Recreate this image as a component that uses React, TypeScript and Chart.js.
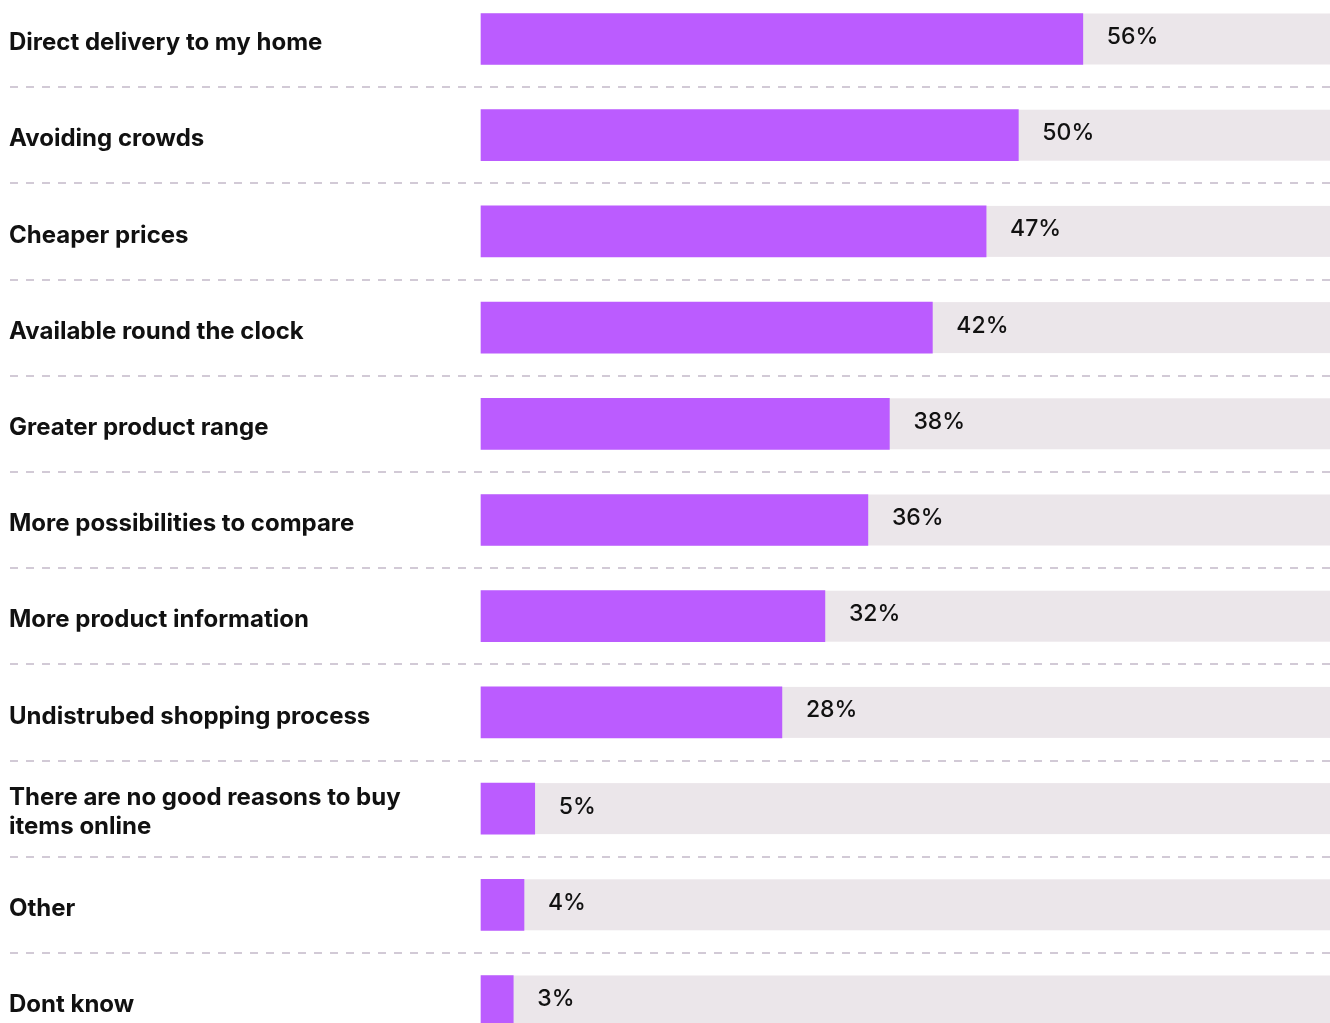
import React, { useEffect, useRef } from "react";
import { Chart, registerables } from "chart.js";

Chart.register(...registerables);

const categories: (string | string[])[] = [
  "Direct delivery to my home",
  "Avoiding crowds",
  "Cheaper prices",
  "Available round the clock",
  "Greater product range",
  "More possibilities to compare",
  "More product information",
  "Undistrubed shopping process",
  ["There are no good reasons to buy", "items online"],
  "Other",
  "Dont know",
];
const values: number[] = [56, 50, 47, 42, 38, 36, 32, 28, 5, 4, 3];
const axisMax = 79;

const PURPLE = "#BB5CFF";
const TRACK = "#EBE6EA";
const DASH = "#D2CAD6";
const TEXT = "#111111";
const FONT = "Inter, 'Noto Sans', sans-serif";

const bgPlugin = {
  id: "trackAndSeparators",
  beforeDatasetsDraw(chart: any) {
    const { ctx, chartArea } = chart;
    const y = chart.scales.y;
    const meta = chart.getDatasetMeta(0);
    ctx.save();
    meta.data.forEach((bar: any) => {
      const h = bar.height;
      ctx.fillStyle = TRACK;
      ctx.fillRect(chartArea.left, bar.y - h / 2, chartArea.right - chartArea.left, h);
    });
    ctx.strokeStyle = DASH;
    ctx.lineWidth = 2;
    ctx.setLineDash([8, 8]);
    for (let i = 0; i < categories.length - 1; i++) {
      const yy = Math.round((y.getPixelForValue(i) + y.getPixelForValue(i + 1)) / 2);
      ctx.beginPath();
      ctx.moveTo(10, yy);
      ctx.lineTo(chart.width, yy);
      ctx.stroke();
    }
    ctx.restore();
  },
  afterDatasetsDraw(chart: any) {
    const { ctx } = chart;
    const meta = chart.getDatasetMeta(0);
    ctx.save();
    ctx.fillStyle = TEXT;
    ctx.font = `500 23px ${FONT}`;
    ctx.textAlign = "left";
    ctx.textBaseline = "middle";
    meta.data.forEach((bar: any, i: number) => {
      ctx.fillText(`${values[i]}%`, bar.x + 24, bar.y - 2);
    });
    ctx.restore();
  },
};

export default function App() {
  const ref = useRef<HTMLCanvasElement | null>(null);
  useEffect(() => {
    if (!ref.current) return;
    const chart = new Chart(ref.current, {
      type: "bar",
      data: {
        labels: categories,
        datasets: [
          {
            data: values,
            backgroundColor: PURPLE,
            barThickness: 51,
            clip: false as any,
          },
        ],
      },
      options: {
        indexAxis: "y",
        responsive: false,
        animation: false,
        layout: { padding: { top: 39, bottom: 22, left: 9, right: 0 } },
        plugins: { legend: { display: false }, tooltip: { enabled: false } },
        scales: {
          x: { display: false, min: 0, max: axisMax },
          y: {
            offset: false,
            grid: { display: false },
            border: { display: false },
            afterFit: (s: any) => {
              s.width = 472;
            },
            ticks: {
              crossAlign: "far",
              color: TEXT,
              font: { family: FONT, size: 24, weight: "700", lineHeight: 1.2 },
              padding: 0,
              labelOffset: 4,
            },
          },
        },
      },
      plugins: [bgPlugin],
    });
    return () => chart.destroy();
  }, []);
  return (
    <div style={{ position: "absolute", left: 0, top: 0, width: 1330, height: 1023, background: "#fff" }}>
      <canvas ref={ref} width={1330} height={1023} style={{ display: "block" }} />
    </div>
  );
}
